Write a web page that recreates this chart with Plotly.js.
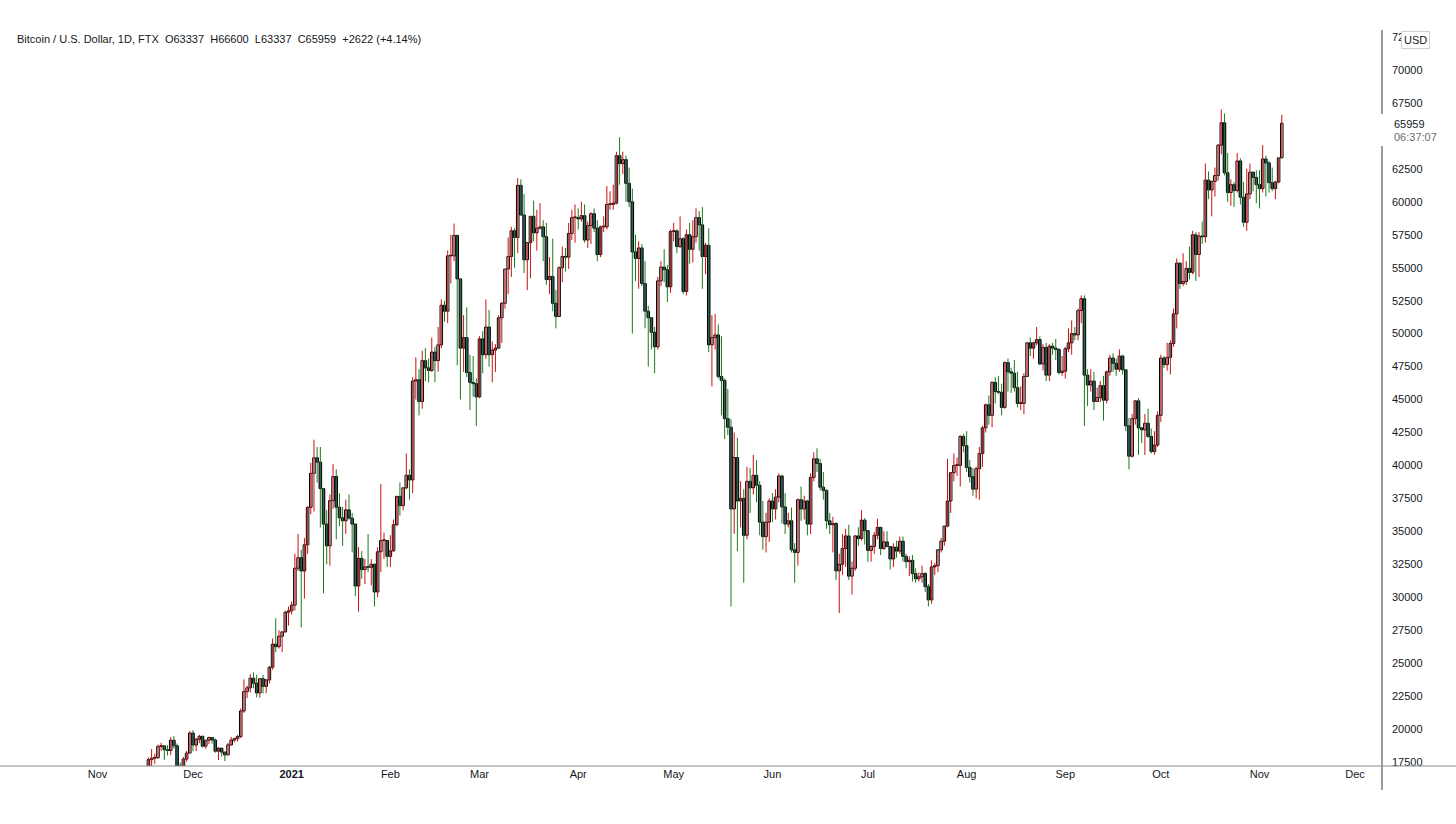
<!DOCTYPE html>
<html><head><meta charset="utf-8">
<script src="https://cdn.plot.ly/plotly-3.0.1.min.js"></script>
<style>html,body{margin:0;padding:0;background:#fff;}#chart{width:1456px;height:824px;}</style>
</head><body><div id="chart"></div>
<script>
// Daily BTC/USD (FTX), first candle 2020-11-17
const startDate = [2020, 10, 17];

const open = [
 16700,17680,17790,17820,18680,18720,18430,18370,19150,18730,17150,17140,17720,18180,
 19700,18790,19220,19450,18700,19150,19360,19170,18320,18550,18250,18040,18800,19170,19270,19440,21370,22840,23130,23860,23480,22740,23820,23240,23730,24690,26440,26250,27040,27370,28860,
 28970,29400,32200,33000,31990,33980,36820,39400,40580,40250,38240,35550,33900,37330,39160,36830,36020,35800,36630,36000,35550,30850,32950,32100,32290,32270,32500,30400,33450,34300,34300,
 33100,33520,35500,37650,36950,38300,39250,38900,46400,46500,44850,47950,47400,47200,48600,47950,49150,52150,51700,55900,55900,57450,54150,48900,49700,47050,46300,46200,
 45200,49600,48400,50500,48400,48750,48900,51200,52300,54900,55850,57800,57300,61250,59000,55600,56900,58900,57650,58000,58100,57350,54100,54340,52300,51300,55000,55850,55800,57600,58800,
 58800,58700,58950,57100,58200,59100,58000,56000,58100,58100,59800,59800,59900,63500,62900,63200,61400,60000,56200,55700,56500,53800,51700,51200,50100,49000,54000,55050,54850,53550,
 57750,57800,56600,57200,53200,57500,56400,57350,58800,58250,55850,56700,49150,49700,49900,46750,46450,43550,42900,36700,40600,37300,37500,34700,38800,38300,39250,38500,35700,34600,35700,
 37300,36700,37600,39200,36850,35550,35800,33600,33400,37400,36700,37300,35550,39100,40500,40150,38350,38100,35800,35500,35600,32000,32500,33700,34650,31600,32200,34650,34450,35850,
 35050,33550,33850,34700,35300,33700,34200,33850,32900,33800,33500,34250,33100,32700,32800,31800,31400,31550,31800,30800,29800,32300,32400,33600,34250,35400,37300,39450,40000,40000,42200,
 41500,39850,39150,38200,39750,40900,42850,44600,43800,46300,45600,45550,44400,47800,47100,47000,45900,44700,44700,46750,49300,48900,49300,49550,47700,48950,46850,49050,48900,48800,47050,
 47150,48850,49300,50000,49900,51750,52650,46850,46100,46400,44850,45150,46050,44950,47100,48150,47750,47300,48300,47250,43000,40700,43550,44900,42850,42700,43200,42200,41050,41550,
 43800,48150,47650,48200,49250,51500,55350,53800,53950,54950,54650,57500,56000,57400,57350,61650,60900,61550,62000,64300,66000,62200,60700,61300,60850,63100,60350,58450,60600,62250,61850,
 61300,61000,63250,62950,61450,61000,61500,63337
];
const high = [
 17860,18480,18130,18820,18970,18750,18770,19400,19480,18900,17460,17880,18340,19840,
 19920,19340,19570,19500,19170,19420,19390,19290,18640,18560,18280,18950,19400,19350,19560,21560,23770,23280,24170,24300,24120,23840,24100,23780,24780,26870,28400,27500,27400,28970,29300,
 29680,33300,34800,33600,34500,36900,40200,41950,41400,41400,38300,36600,37800,40100,39700,37900,36850,37400,37800,36400,35600,33800,33500,32900,34800,32900,32550,33800,38600,34900,34300,
 34700,35900,37700,38700,38300,40900,39700,46700,48200,47300,48700,48900,48100,49700,49000,50500,52600,52500,56300,57500,58350,57500,54200,51400,52000,48400,48300,46600,
 49800,50200,52600,51800,49400,49200,51400,52400,54900,57300,58100,58000,61800,61700,60600,56900,58900,60100,59400,59900,58600,58400,55800,57200,53300,55100,56600,56500,58400,59400,59800,
 59500,60000,59800,58500,59200,59500,58600,58200,58900,61200,60800,61300,63800,64900,63800,63500,62600,61000,57500,57000,56800,55500,52100,51200,50500,54300,55500,56400,55200,57900,
 58400,57900,58900,57300,57900,58400,58600,59500,59300,59600,56900,58000,51400,51500,50700,49800,46600,45800,43500,42500,42100,38800,38200,39900,39800,40800,40400,38800,37300,36400,37500,
 37900,38200,39400,39300,37900,36400,36800,34100,37500,38400,37700,37400,39400,41000,41300,40500,39500,38200,36400,36100,35700,33300,34800,35200,35500,32700,34700,35300,36600,36000,
 35050,33950,34950,35950,35300,35000,35000,33900,34100,34300,34600,34600,33300,33100,33200,32200,31900,32400,31900,31000,32800,32600,33600,34500,35400,40500,39500,40900,40600,42300,42400,
 42600,40400,39800,39900,41400,43000,44700,45300,46400,46700,46800,46200,47900,48100,47400,48000,47100,46000,47000,49300,49700,49400,50500,49800,49200,49300,49200,49300,49600,48900,48300,
 49000,50400,51000,50500,51900,52900,52900,47300,47300,47100,45900,46400,46800,47200,48400,48500,48100,48800,48400,47300,43600,43900,44900,45100,42900,43900,44300,42800,42600,44100,
 48400,48300,49300,49500,51900,55700,55400,56100,55500,56600,57800,57700,57700,58500,62900,62300,61600,62600,64400,67000,66700,63700,61700,61500,63700,63300,61500,62500,62900,62300,62400,
 62400,64300,63500,63100,62600,61600,63300,66600
];
const low = [
 16560,17210,17350,17760,18350,17660,18000,18030,18520,16330,16450,16880,17530,18170,
 18320,18340,18930,18590,18500,18860,18900,18200,17650,17910,17570,18020,18720,19000,19050,19300,21230,22350,22770,23100,22400,22370,22700,22720,23450,24500,25850,26100,25850,27330,27850,
 28700,29000,32000,27700,29900,33300,36300,36500,38700,35300,30300,32500,32400,36700,34400,35400,33900,34800,35900,33400,30100,28900,31400,31000,31900,30900,29300,30000,31900,32900,32300,
 32300,33450,35400,36200,36600,38200,37400,37900,45000,43800,44300,46400,46300,47100,46300,47100,48900,50900,50800,53800,55500,47600,45000,47100,46700,44200,45200,43000,
 45100,47000,48100,47500,46300,47100,48900,49300,51900,53000,54300,55000,56100,59000,54600,53300,54200,57000,56300,57900,55500,53700,53000,51700,50400,51300,53900,54700,54900,57100,56900,
 57900,58500,56900,56500,56800,57700,55500,55800,57700,57900,59400,59400,59800,61300,62100,60000,59600,50000,54000,53400,53600,50400,47500,48800,47000,48800,53600,53900,52400,53100,
 57000,56100,56500,53000,52900,55300,55400,56900,56300,53400,54500,48600,46000,48800,46600,43800,42000,42300,29300,34800,33500,35300,31100,34400,36400,37800,37200,34700,33600,33400,34200,
 35700,35900,37200,35600,34800,35300,33400,31100,32400,35800,35900,34700,34800,38800,39500,38100,37400,35200,34800,33400,31300,28800,31700,32300,31300,30200,32000,33900,34300,34000,
 32700,32700,33300,34400,33200,33600,33800,32100,32300,33000,33300,32700,32200,31600,31200,31100,31200,31100,30400,29300,29500,31700,31900,33400,33900,35300,36400,38800,39200,38400,41000,
 39500,38700,37700,37500,37400,39900,42500,43100,42900,44700,45400,43800,44300,45600,45500,45600,44400,44200,43900,46700,48300,48100,49100,47600,47200,46400,46400,48400,48000,46900,46800,
 46600,48600,48400,49500,49500,50800,43000,44500,45600,44200,44800,44800,43400,44700,46800,47100,46800,47100,46900,42600,39700,40600,43100,40800,41700,40800,42100,40900,40800,41400,
 43300,47400,47200,46900,49000,50400,53400,53600,53700,54100,54500,54000,54300,56800,56900,60200,58900,60400,61600,63600,62000,60000,59700,59600,60700,59800,58100,57800,60200,60800,59900,
 59500,60700,60400,60700,60800,60200,61400,63337
];
const close = [
 17680,17790,17820,18680,18720,18430,18370,19150,18730,17150,17140,17720,18180,19700,
 18790,19220,19450,18700,19150,19360,19170,18320,18550,18250,18040,18800,19170,19270,19440,21370,22840,23130,23860,23480,22740,23820,23240,23730,24690,26440,26250,27040,27370,28860,28970,
 29400,32200,33000,31990,33980,36820,39400,40580,40250,38240,35550,33900,37330,39160,36830,36020,35800,36630,36000,35550,30850,32950,32100,32290,32270,32500,30400,33450,34300,34300,33100,
 33520,35500,37650,36950,38300,39250,38900,46400,46500,44850,47950,47400,47200,48600,47950,49150,52150,51700,55900,55900,57450,54150,48900,49700,47050,46300,46200,45200,
 49600,48400,50500,48400,48750,48900,51200,52300,54900,55850,57800,57300,61250,59000,55600,56900,58900,57650,58000,58100,57350,54100,54340,52300,51300,55000,55850,55800,57600,58800,58800,
 58700,58950,57100,58200,59100,58000,56000,58100,58100,59800,59800,59900,63500,62900,63200,61400,60000,56200,55700,56500,53800,51700,51200,50100,49000,54000,55050,54850,53550,57750,
 57800,56600,57200,53200,57500,56400,57350,58800,58250,55850,56700,49150,49700,49900,46750,46450,43550,42900,36700,40600,37300,37500,34700,38800,38300,39250,38500,35700,34600,35700,37300,
 36700,37600,39200,36850,35550,35800,33600,33400,37400,36700,37300,35550,39100,40500,40150,38350,38100,35800,35500,35600,32000,32500,33700,34650,31600,32200,34650,34450,35850,35050,
 33550,33850,34700,35300,33700,34200,33850,32900,33800,33500,34250,33100,32700,32800,31800,31400,31550,31800,30800,29800,32300,32400,33600,34250,35400,37300,39450,40000,40000,42200,41500,
 39850,39150,38200,39750,40900,42850,44600,43800,46300,45600,45550,44400,47800,47100,47000,45900,44700,44700,46750,49300,48900,49300,49550,47700,48950,46850,49050,48900,48800,47050,47150,
 48850,49300,50000,49900,51750,52650,46850,46100,46400,44850,45150,46050,44950,47100,48150,47750,47300,48300,47250,43000,40700,43550,44900,42850,42700,43200,42200,41050,41550,43800,
 48150,47650,48200,49250,51500,55350,53800,53950,54950,54650,57500,56000,57400,57350,61650,60900,61550,62000,64300,66000,62200,60700,61300,60850,63100,60350,58450,60600,62250,61850,61300,
 61000,63250,62950,61450,61000,61500,63337,65959
];

const monthTicks = ['2020-11-01','2020-12-01','2021-01-01','2021-02-01','2021-03-01','2021-04-01','2021-05-01','2021-06-01','2021-07-01','2021-08-01','2021-09-01','2021-10-01','2021-11-01','2021-12-01'];
const monthLabels = ['Nov','Dec','<b>2021</b>','Feb','Mar','Apr','May','Jun','Jul','Aug','Sep','Oct','Nov','Dec'];
const priceTicks = [17500,20000,22500,25000,27500,30000,32500,35000,37500,40000,42500,45000,47500,50000,52500,55000,57500,60000,62500,67500,70000,72500];
const titleText = 'Bitcoin / U.S. Dollar, 1D, FTX\u00a0\u00a0O63337\u00a0\u00a0H66600\u00a0\u00a0L63337\u00a0\u00a0C65959\u00a0\u00a0+2622 (+4.14%)';
const lastPriceText = '65959';
const countdownText = '06:37:07';
const currencyText = 'USD';

const dates = open.map((_, i) => {
  const d = new Date(Date.UTC(startDate[0], startDate[1], startDate[2] + i));
  return d.toISOString().slice(0, 10);
});

const upX = [], upY = [], dnX = [], dnY = [];
const upBx = [], upBase = [], upH = [], dnBx = [], dnBase = [], dnH = [];
for (let i = 0; i < dates.length; i++) {
  const up = close[i] >= open[i];
  const lo = Math.min(open[i], close[i]);
  const h = Math.max(Math.abs(close[i] - open[i]), 60);
  if (up) {
    upX.push(dates[i], dates[i], null); upY.push(high[i], low[i], null);
    upBx.push(dates[i]); upBase.push(lo); upH.push(h);
  } else {
    dnX.push(dates[i], dates[i], null); dnY.push(high[i], low[i], null);
    dnBx.push(dates[i]); dnBase.push(lo); dnH.push(h);
  }
}

const DAY = 86400000;
const FONT = 'Liberation Sans, Arial, sans-serif';
const traces = [
  {type:'scatter', mode:'lines', x:upX, y:upY, line:{color:'#cc1010', width:1}, hoverinfo:'skip', connectgaps:false},
  {type:'scatter', mode:'lines', x:dnX, y:dnY, line:{color:'#1b7a1b', width:1}, hoverinfo:'skip', connectgaps:false},
  {type:'bar', x:upBx, y:upH, base:upBase, width:0.8*DAY, hoverinfo:'skip',
   marker:{color:'#ffffff', line:{color:'#000000', width:1}}},
  {type:'bar', x:dnBx, y:dnH, base:dnBase, width:0.8*DAY, hoverinfo:'skip',
   marker:{color:'#3c2e9c', line:{color:'#000000', width:1}}}
];

const H = 736; // plot height in px
const layout = {
  width:1456, height:824,
  margin:{l:0, r:74, t:30, b:58},
  paper_bgcolor:'#ffffff', plot_bgcolor:'#ffffff',
  showlegend:false, hovermode:false, dragmode:false, barmode:'overlay',
  xaxis:{type:'date', range:['2020-10-01 09:07','2021-12-09 11:30'],
    tickmode:'array', tickvals:monthTicks, ticktext:monthLabels,
    showgrid:false, zeroline:false, showline:false, ticks:'',
    tickfont:{family:FONT, size:11, color:'#131722'}, fixedrange:true},
  yaxis:{side:'right', range:[17197, 73035],
    tickmode:'array', tickvals:priceTicks, ticktext:priceTicks.map(String),
    showgrid:false, zeroline:false, showline:false, ticks:'', ticklabelstandoff:9,
    tickfont:{family:FONT, size:11, color:'#131722'}, fixedrange:true},
  shapes:[
    {type:'line', xref:'paper', yref:'paper', x0:0, x1:1456/1382, y0:0, y1:0, line:{color:'#8a8a8a', width:1}},
    {type:'line', xref:'paper', yref:'paper', x0:1, x1:1, y0:-24/H, y1:(766-146)/H, line:{color:'#9a9a9a', width:2}},
    {type:'line', xref:'paper', yref:'paper', x0:1, x1:1, y0:(766-114)/H, y1:1, line:{color:'#9a9a9a', width:2}}
  ],
  annotations:[
    {xref:'paper', yref:'paper', x:15/1382, y:(766-39)/H, xanchor:'left', yanchor:'middle', showarrow:false,
     text:titleText, font:{family:FONT, size:11, color:'#131722'}},
    {xref:'paper', yref:'paper', x:1, xshift:10, y:(766-124)/H, xanchor:'left', yanchor:'middle', showarrow:false,
     text:lastPriceText, font:{family:FONT, size:11, color:'#131722'}},
    {xref:'paper', yref:'paper', x:1, xshift:10, y:(766-137)/H, xanchor:'left', yanchor:'middle', showarrow:false,
     text:countdownText, font:{family:FONT, size:11, color:'#6a6d78'}},
    {xref:'paper', yref:'paper', x:1415/1382, y:(766-40)/H, xanchor:'center', yanchor:'middle', showarrow:false,
     text:currencyText, font:{family:FONT, size:11, color:'#131722'}, bgcolor:'#ffffff', bordercolor:'#cfd1d6', borderwidth:1, borderpad:2}
  ]
};

Plotly.newPlot('chart', traces, layout, {displayModeBar:false, staticPlot:true});
</script>
</body></html>
